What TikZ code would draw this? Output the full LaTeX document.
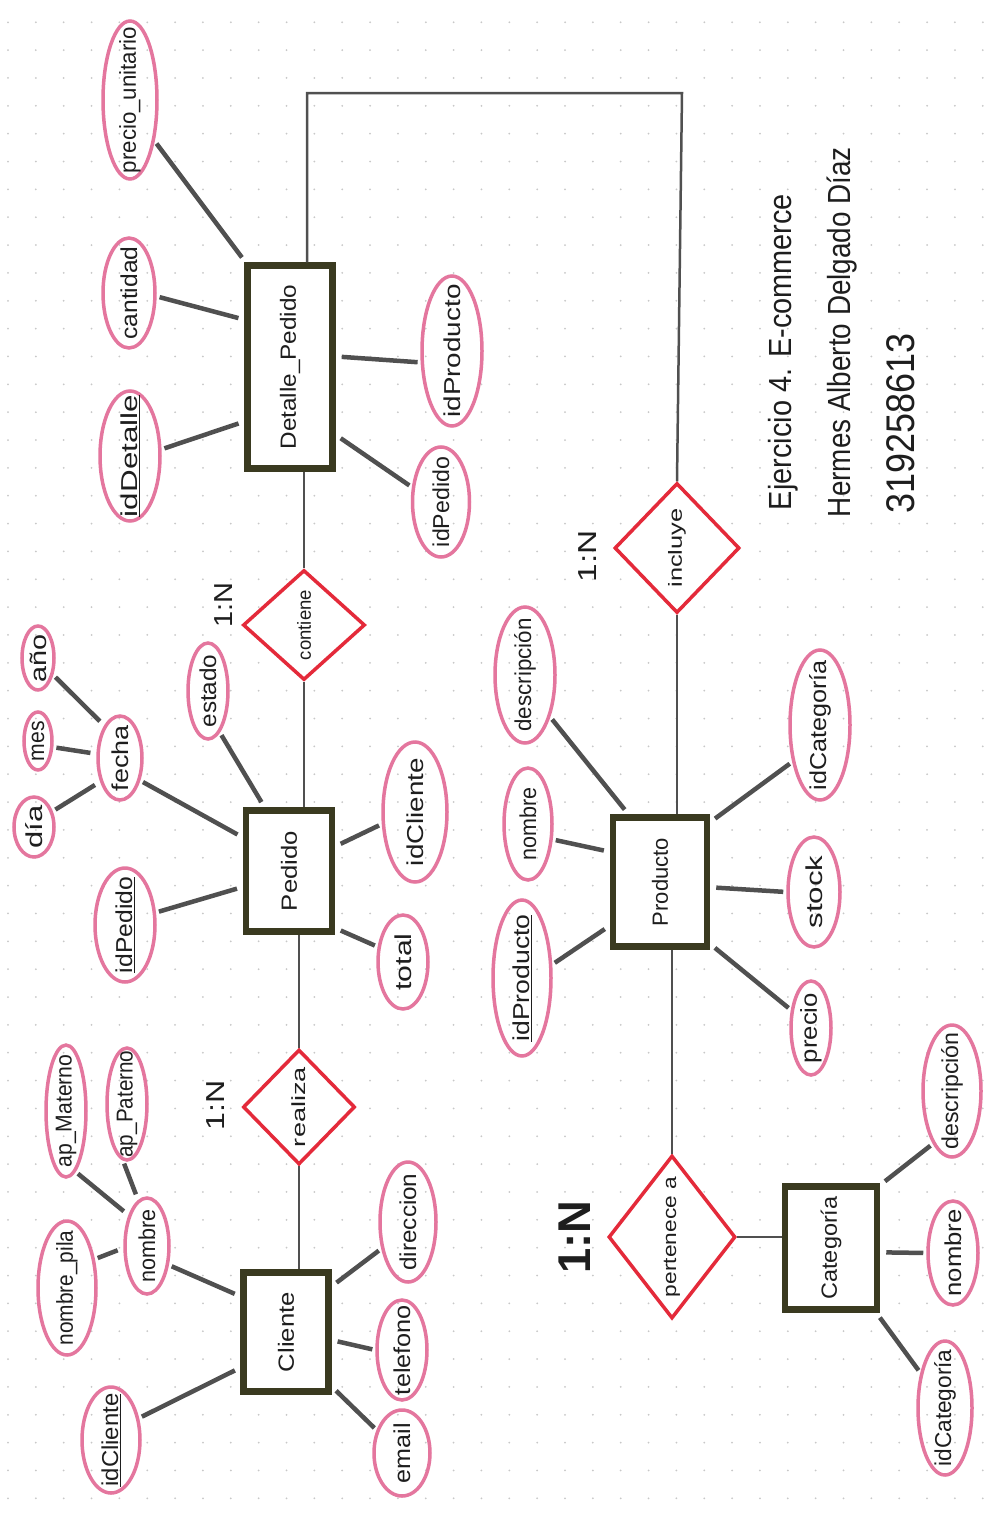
\documentclass[tikz,border=0pt]{standalone}
\usepackage{fontspec}
\setmainfont{Liberation Sans}
\usetikzlibrary{shapes.geometric}

\definecolor{pinkline}{RGB}{228,118,158}
\definecolor{relcol}{RGB}{228,42,58}
\definecolor{entcol}{RGB}{58,58,32}
\definecolor{pencil}{RGB}{80,80,80}
\definecolor{ink}{RGB}{30,30,30}
\definecolor{dotc}{RGB}{200,200,200}

% rotated text (reads bottom to top): run length, font size, text
\newcommand\rt[3]{\rotatebox{90}{\resizebox{#1pt}{\height}{\fontsize{#2}{#2}\selectfont #3}}}

\tikzset{
  attr/.style={ellipse, draw=pinkline, line width=3.5pt, inner sep=0pt},
  ent/.style={rectangle, draw=entcol, line width=6.5pt, inner sep=0pt, fill=white},
  relship/.style={diamond, draw=relcol, line width=3.5pt, inner sep=0pt, fill=white},
  txt/.style={inner sep=0pt, text=ink},
  aline/.style={draw=pencil, line width=4.5pt, shorten <=3pt, shorten >=6pt},
  rline/.style={draw=pencil, line width=2.5pt},
}

% name, position, width, height, text length, text
\newcommand\attrib[6]{%
  \node[attr, minimum width=#3, minimum height=#4] (#1) at (#2) {};
  \node[txt] (#1-t) at (#1) {\rt{#5}{23}{#6}};}
\newcommand\entity[6]{%
  \node[ent, minimum width=#3, minimum height=#4] (#1) at (#2) {};
  \node[txt] (#1-t) at (#1) {\rt{#5}{22}{#6}};}
\newcommand\relation[6]{%
  \node[relship, minimum width=#3, minimum height=#4] (#1) at (#2) {};
  \node[txt] (#1-t) at (#1) {\rt{#5}{19}{#6}};}

\begin{document}
\begin{tikzpicture}[x=1pt, y=-1pt]
  % page with dot grid
  \fill[white] (0,0) rectangle (995,1521);
  \useasboundingbox (0,0) rectangle (995,1521);
  \foreach \i in {0,...,35}
    \foreach \j in {0,...,53}
      \fill[dotc] (8+27.85*\i, 22.25+27.85*\j) circle (1pt);

  % entities
  \entity{det}{290,367}{85}{203}{165}{Detalle\_Pedido}
  \entity{ped}{289,871}{86}{121}{80}{Pedido}
  \entity{cli}{286,1332}{85}{119}{80}{Cliente}
  \entity{pro}{660,882}{94}{129}{88}{Producto}
  \entity{cat}{831,1248}{92}{123}{103}{Categoría}

  % relationships
  \relation{con}{304,625}{122}{110}{70}{contiene}
  \relation{rea}{299,1107}{112}{115}{80}{realiza}
  \relation{inc}{677,548}{125}{130}{79}{incluye}
  \relation{per}{672,1237}{127}{163}{120}{pertenece a}

  % attributes of Detalle_Pedido
  \attrib{pu}{130,100}{54}{158}{146}{precio\_unitario}
  \attrib{can}{129,293}{52}{110}{93}{cantidad}
  \attrib{idd}{130,456}{60}{130}{122}{\underline{idDetalle}}
  \attrib{dip}{452,351}{60}{150}{133}{idProducto}
  \attrib{dipe}{441,502}{57}{110}{90}{idPedido}

  % attributes of Pedido
  \attrib{ano}{38,658}{32}{64}{48}{año}
  \attrib{mes}{38,741}{28}{58}{40}{mes}
  \attrib{dia}{34,827}{40}{60}{43}{día}
  \attrib{fec}{120,758}{44}{84}{66}{fecha}
  \attrib{est}{208,691}{40}{96}{73}{estado}
  \attrib{idp}{125,925}{60}{114}{96}{\underline{idPedido}}
  \attrib{pidc}{415,812}{64}{140}{108}{idCliente}
  \attrib{tot}{403,962}{50}{94}{57}{total}

  % attributes of Cliente
  \attrib{apm}{66,1111}{40}{132}{113}{ap\_Materno}
  \attrib{app}{127,1104}{40}{112}{107}{ap\_Paterno}
  \attrib{nom}{147,1246}{44}{96}{73}{nombre}
  \attrib{npi}{67,1288}{58}{134}{115}{nombre\_pila}
  \attrib{idc}{111,1440}{58}{106}{93}{\underline{idCliente}}
  \attrib{dir}{408,1222}{56}{120}{97}{direccion}
  \attrib{tel}{402,1350}{50}{100}{90}{telefono}
  \attrib{ema}{402,1453}{56}{86}{60}{email}

  % attributes of Producto
  \attrib{pde}{525,675}{60}{136}{113}{descripción}
  \attrib{pno}{528,824}{48}{112}{73}{nombre}
  \attrib{pid}{522,978}{58}{156}{127}{\underline{idProducto}}
  \attrib{pic}{820,725}{60}{150}{130}{idCategoría}
  \attrib{pst}{814,892}{52}{110}{73}{stock}
  \attrib{ppr}{811,1028}{40}{94}{70}{precio}

  % attributes of Categoría
  \attrib{cde}{952,1091}{58}{132}{117}{descripción}
  \attrib{cno}{953,1253}{50}{104}{87}{nombre}
  \attrib{cid}{945,1408}{54}{134}{117}{idCategoría}

  % cardinalities
  \node[txt] (c1) at (224,605) {\rt{45}{26}{1:N}};
  \node[txt] (c2) at (216,1105) {\rt{50}{26}{1:N}};
  \node[txt] (c3) at (588,556) {\rt{52}{26}{1:N}};
  \node[txt] (c4) at (575,1237) {\rt{73}{46}{\bfseries 1:N}};

  % heading
  \node[txt] (t1) at (783,352) {\rt{316}{32}{Ejercicio 4. E-commerce}};
  \node[txt] (t2) at (842,332) {\rt{370}{32}{Hermes Alberto Delgado Díaz}};
  \node[txt] (t3) at (901,423) {\rt{180}{40}{319258613}};

  % relationship connectors
  \coordinate (topL) at (307,93);
  \coordinate (topR) at (682,93);
  \draw[rline] ([xshift=17pt]det.north) -- (topL) -- (topR) -- (inc.north);
  \draw[rline] (det.south -| con) -- (con.north);
  \draw[rline] (con.south) -- (con.south |- ped.north);
  \draw[rline] (ped.south -| rea) -- (rea.north);
  \draw[rline] (rea.south) -- (rea.south |- cli.north);
  \draw[rline] (inc.south) -- (inc.south |- pro.north);
  \draw[rline] (pro.south -| per) -- (per.north);
  \draw[rline] (per.east) -- (per.east -| cat.west);

  % attribute connectors
  \draw[aline] (pu.-59) -- (det.113);
  \draw[aline] (can.-7) -- (det.134);
  \draw[aline] (idd.12) -- (det.230);
  \draw[aline] (dip.200) -- (det.13);
  \draw[aline] (dipe.153) -- (det.-56);

  \draw[aline] (fec.-48) -- (ped.144);
  \draw[aline] (est.-74) -- (ped.111);
  \draw[aline] (idp.22) -- (ped.199);
  \draw[aline] (pidc.200) -- (ped.28);
  \draw[aline] (tot.149) -- (ped.-51);
  \draw[aline] (ano.-48) -- (fec.116);
  \draw[aline] (mes.-22) -- (fec.170);
  \draw[aline] (dia.40) -- (fec.230);

  \draw[aline] (nom.-41) -- (cli.142);
  \draw[aline] (idc.38) -- (cli.218);
  \draw[aline] (dir.225) -- (cli.45);
  \draw[aline] (tel.180) -- (cli.-10);
  \draw[aline] (ema.138) -- (cli.-50);
  \draw[aline] (apm.-81) -- (nom.121);
  \draw[aline] (app.-94) -- (nom.101);
  \draw[aline] (npi.46) -- (nom.185);

  \draw[aline] (pde.-59) -- (pro.115);
  \draw[aline] (pno.-32) -- (pro.149);
  \draw[aline] (pid.24) -- (pro.221);
  \draw[aline] (pic.233) -- (pro.50);
  \draw[aline] (pst.180) -- (pro.-6);
  \draw[aline] (ppr.138) -- (pro.-51);

  \draw[aline] (cde.250) -- (cat.52);
  \draw[aline] (cno.180) -- (cat.-5);
  \draw[aline] (cid.125) -- (cat.-55);
\end{tikzpicture}
\end{document}
